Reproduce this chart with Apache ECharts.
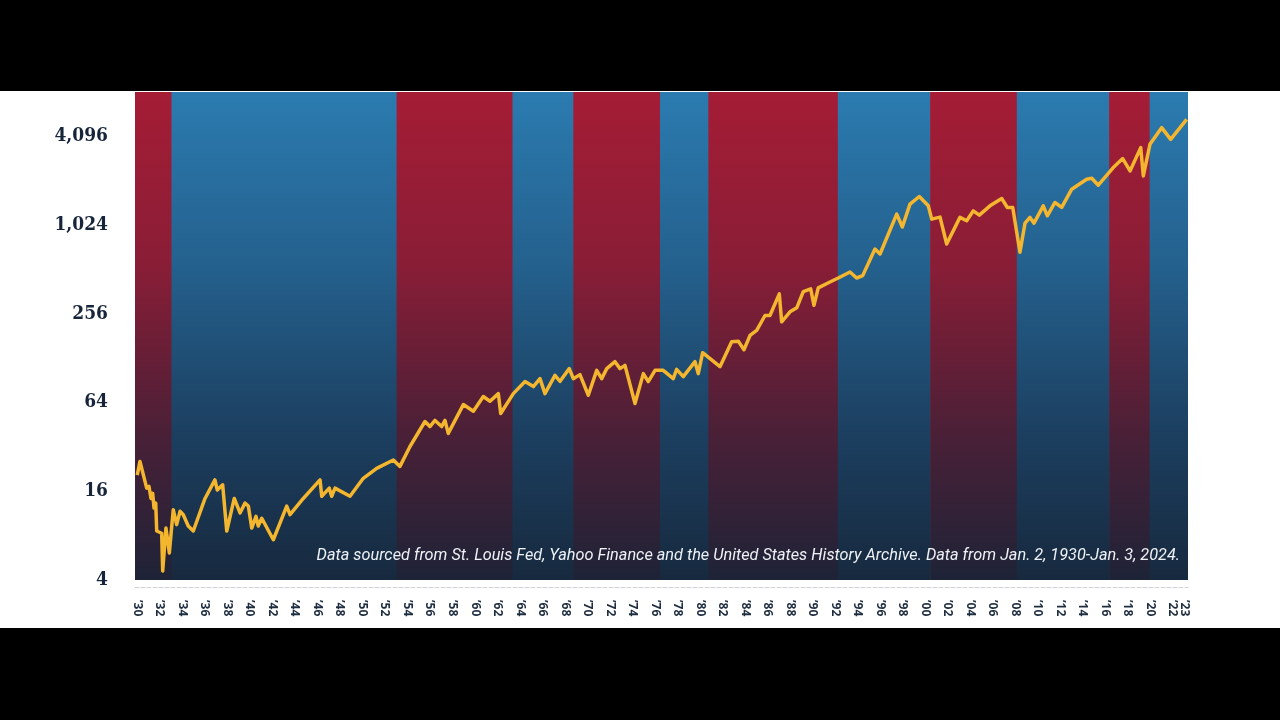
<!DOCTYPE html>
<html>
<head>
<meta charset="utf-8">
<script src="https://cdn.jsdelivr.net/npm/echarts@6/dist/echarts.min.js"></script>
<style>
  html, body { margin: 0; padding: 0; background: #000; }
  #main { width: 1280px; height: 720px; }
</style>
</head>
<body>
<div id="main"></div>
<script>
// S&P 500 level (year, index value)
var years = [
  1930.0, 1930.24, 1930.84, 1931.04, 1931.22, 1931.37, 1931.49, 1931.64, 1931.73, 1932.17,
  1932.26, 1932.55, 1932.85, 1933.2, 1933.5, 1933.8, 1934.09, 1934.53, 1934.98, 1936.02,
  1936.9, 1937.11, 1937.59, 1937.95, 1938.62, 1939.13, 1939.57, 1939.87, 1940.17, 1940.55,
  1940.75, 1941.06, 1942.09, 1943.28, 1943.57, 1944.75, 1946.24, 1946.39, 1947.06, 1947.27,
  1947.57, 1948.9, 1950.08, 1951.27, 1952.75, 1953.34, 1954.23,
  1955.56, 1956.0, 1956.45, 1957.05, 1957.34, 1957.63, 1958.97, 1959.86, 1960.74, 1961.34,
  1962.08, 1962.29, 1963.41, 1964.45, 1965.19, 1965.78, 1966.22, 1967.11, 1967.56, 1968.38,
  1968.74, 1969.33, 1970.07, 1970.82, 1971.26, 1971.71, 1972.44, 1972.89, 1973.33, 1974.22,
  1974.96, 1975.4, 1976.0, 1976.73, 1977.62, 1977.92, 1978.51, 1979.55, 1979.84, 1980.23,
  1981.77,
  1982.81, 1983.4, 1983.9, 1984.44, 1985.03, 1985.77, 1986.21, 1987.04, 1987.25, 1987.99,
  1988.59, 1989.17, 1989.83, 1990.12, 1990.5, 1991.54, 1992.28, 1993.32, 1993.91, 1994.45,
  1995.54, 1995.99, 1997.47, 1997.97, 1998.65, 1999.48, 2000.28, 2000.58, 2001.32,
  2001.91, 2003.09, 2003.69, 2004.27, 2004.81, 2005.76, 2006.8, 2007.3, 2007.78, 2008.42,
  2008.87, 2009.31, 2009.67, 2010.49, 2010.85, 2011.53, 2012.13, 2013.02, 2014.35, 2014.8,
  2015.38, 2016.71, 2017.55, 2018.2, 2019.15, 2019.38, 2019.97, 2021.01, 2021.81, 2023.23
];
var sp500 = [
  20.6, 25.5, 16.8, 17.3, 14.3, 15.5, 12.3, 13.3, 8.6, 8.3,
  4.6, 9.0, 6.1, 12.0, 9.5, 11.7, 11.1, 9.3, 8.6, 14.3,
  19.1, 16.3, 17.7, 8.6, 14.3, 11.4, 13.3, 12.7, 9.0, 10.8,
  9.3, 10.5, 7.5, 12.7, 11.1, 14.3, 19.1, 14.8, 16.8, 14.8,
  16.8, 14.8, 19.6, 22.9, 26.1, 23.6, 32.2,
  47.6, 44.0, 48.4, 44.0, 48.4, 39.5, 62.0, 55.9, 70.3, 65.3,
  73.6, 53.9, 73.6, 88.8, 82.1, 93.0, 73.6, 97.9, 89.2, 108.7,
  93.0, 99.0, 71.7, 105.8, 93.0, 108.7, 121.2, 108.7, 114.4, 63.0,
  100.6, 88.8, 105.8, 105.8, 93.0, 107.5, 96.0, 121.2, 100.6, 139.5,
  112.1,
  165.5, 167, 146.1, 182.6, 197.4, 249.3, 249.3, 349.5, 226, 264,
  281, 362, 378, 292, 384, 421, 448, 492, 448, 465,
  705, 652, 1215, 993, 1420, 1601, 1384, 1124, 1160,
  762, 1155, 1095, 1279, 1197, 1384, 1552, 1349, 1349, 670,
  1056, 1155, 1056, 1384, 1184, 1458, 1349, 1794, 2096, 2130,
  1909, 2516, 2894, 2386, 3435, 2207, 3615, 4692, 3910, 5337
];

// party in the White House, as coloured bands
var bandStart = [1929.8, 1933.1, 1953.1, 1963.4, 1968.8, 1976.5, 1980.8, 1992.3, 2000.5, 2008.2, 2016.4, 2020.0];
var bandEnd   = [1933.1, 1953.1, 1963.4, 1968.8, 1976.5, 1980.8, 1992.3, 2000.5, 2008.2, 2016.4, 2020.0, 2023.35];
var bandParty = ['R', 'D', 'R', 'D', 'R', 'D', 'R', 'D', 'R', 'D', 'R', 'D'];

var labelYears = [1930, 1932, 1934, 1936, 1938, 1940, 1942, 1944, 1946, 1948, 1950, 1952,
  1954, 1956, 1958, 1960, 1962, 1964, 1966, 1968, 1970, 1972, 1974, 1976, 1978, 1980,
  1982, 1984, 1986, 1988, 1990, 1992, 1994, 1996, 1998, 2000, 2002, 2004, 2006, 2008,
  2010, 2012, 2014, 2016, 2018, 2020, 2022];
var lastLabelYears = [2023];
var yTicks = [4, 16, 64, 256, 1024, 4096];

var chart = echarts.init(document.getElementById('main'));

var redFill = {
  type: 'linear', x: 0, y: 0, x2: 0, y2: 1,
  colorStops: [
    { offset: 0, color: '#a51c35' },
    { offset: 0.35, color: '#8a1d36' },
    { offset: 0.7, color: '#4a2037' },
    { offset: 1, color: '#1e2337' }
  ]
};
var blueFill = {
  type: 'linear', x: 0, y: 0, x2: 0, y2: 1,
  colorStops: [
    { offset: 0, color: '#2b7bb0' },
    { offset: 0.35, color: '#24618e' },
    { offset: 0.7, color: '#1c3f60' },
    { offset: 1, color: '#17293e' }
  ]
};

// small overlap so no seam shows between bands
var bands = [];
for (var i = 0; i < bandStart.length; i++) {
  bands.push([
    { xAxis: i === 0 ? bandStart[i] : bandStart[i] - 0.06, itemStyle: { color: bandParty[i] === 'R' ? redFill : blueFill, opacity: 1, borderWidth: 0 } },
    { xAxis: bandEnd[i] }
  ]);
}

var lineData = [];
for (var j = 0; j < years.length; j++) {
  lineData.push([years[j], sp500[j]]);
}

var yearLabel = {
  rotate: -90,
  margin: 13,
  hideOverlap: false,
  color: '#1e2d40',
  fontFamily: 'Open Sans',
  fontWeight: 'bold',
  fontSize: 12,
  formatter: function (v) { return '\u2019' + String(v).slice(2); }
};

var option = {
  backgroundColor: '#000',
  animation: false,
  graphic: [
    { type: 'rect', left: 0, top: 91, z: -10, shape: { width: 1280, height: 537 }, style: { fill: '#fff' } },
    {
      type: 'text', right: 100, top: 548, z: 100,
      style: {
        text: 'Data sourced from St. Louis Fed, Yahoo Finance and the United States History Archive. Data from Jan. 2, 1930-Jan. 3, 2024.',
        fill: '#eef2f6',
        font: 'italic 16.3px Roboto, sans-serif'
      }
    }
  ],
  grid: { left: 135, right: 92, top: 92, bottom: 140 },
  xAxis: [{
    type: 'value',
    min: 1929.8,
    max: 2023.35,
    offset: 7,
    splitLine: { show: false },
    axisTick: { show: false },
    axisLine: { show: true, lineStyle: { color: '#cfd3d8', type: 'dashed', width: 1 } },
    axisLabel: Object.assign({ customValues: labelYears }, yearLabel)
  }, {
    // second copy of the axis carries only the closing '23 label
    type: 'value',
    position: 'bottom',
    min: 1929.8,
    max: 2023.35,
    offset: 7,
    splitLine: { show: false },
    axisTick: { show: false },
    axisLine: { show: false },
    axisLabel: Object.assign({ customValues: lastLabelYears }, yearLabel)
  }],
  yAxis: {
    type: 'log',
    logBase: 4,
    min: 4,
    max: 8192,
    splitLine: { show: false },
    axisTick: { show: false },
    axisLine: { show: false },
    axisLabel: {
      customValues: yTicks,
      margin: 27,
      color: '#17253a',
      fontFamily: 'DejaVu Serif Condensed',
      fontWeight: 'bold',
      fontSize: 19,
      formatter: function (v) { return Math.round(v).toLocaleString('en-US'); }
    }
  },
  series: [{
    type: 'line',
    data: lineData,
    showSymbol: false,
    lineStyle: { color: '#f4b62f', width: 3.5, join: 'round' },
    z: 5,
    markArea: { silent: true, z: 1, data: bands }
  }]
};

chart.setOption(option);
</script>
</body>
</html>
